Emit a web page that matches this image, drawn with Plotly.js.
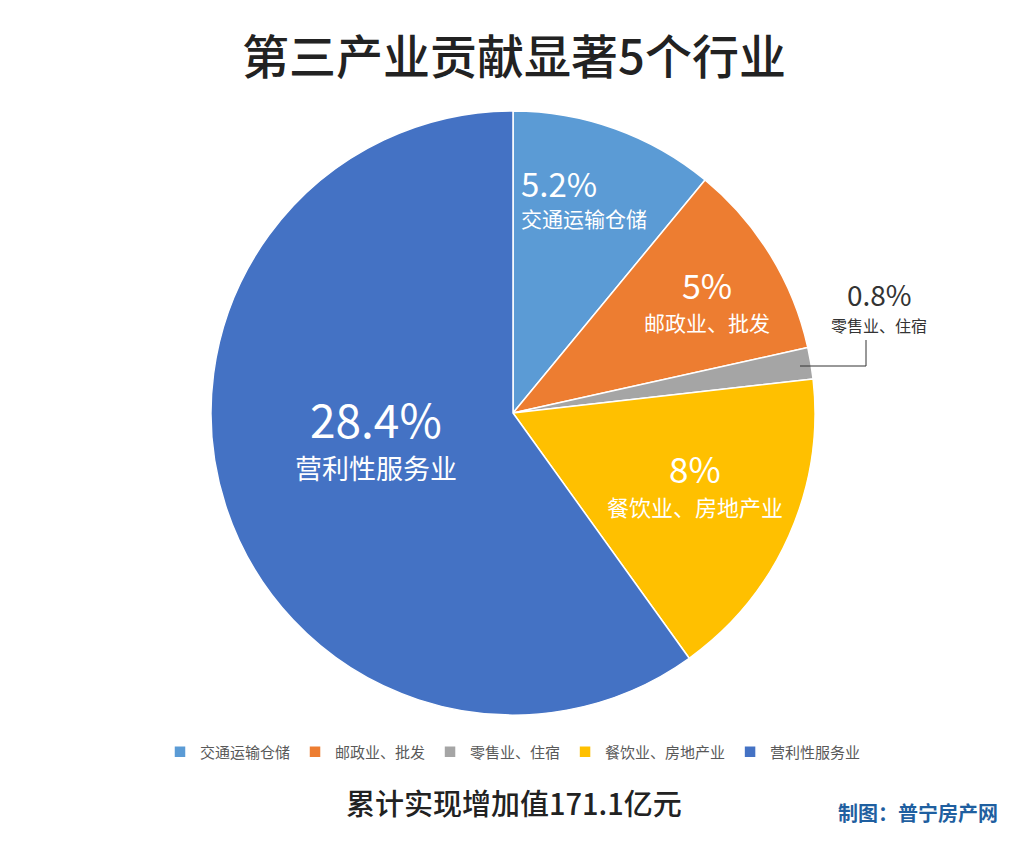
<!DOCTYPE html>
<html><head><meta charset="utf-8">
<script src="https://cdn.plot.ly/plotly-3.0.1.min.js"></script>
<style>html,body{margin:0;padding:0;background:#fff}</style>
</head><body><div id="chart" style="width:1026px;height:849px"></div>
<script>
const categories = ["交通运输仓储", "邮政业、批发", "零售业、住宿", "餐饮业、房地产业", "营利性服务业"];
const values = [5.2, 5, 0.8, 8, 28.4];
const valueLabels = ["5.2%", "5%", "0.8%", "8%", "28.4%"];
const colors = ["#5B9BD5", "#ED7D31", "#A5A5A5", "#FFC000", "#4472C4"];

const W = 1026, H = 849;
const px = x => x / W, py = y => 1 - y / H;
const FONT = "Noto Sans CJK SC, Noto Sans, sans-serif";

// label placement (pixels) : [x, yValue, yName, valueSize, nameSize, color, anchor]
const labelPos = [
  [519, 183, 218, 33, 21, "#ffffff", "left"],
  [707, 285, 322, 34, 21, "#ffffff", "center"],
  [879, 294, 325, 28, 16, "#333333", "center"],
  [695, 467, 506, 35, 22, "#ffffff", "center"],
  [376, 418, 467, 46, 27, "#ffffff", "center"]
];

const annotations = [];
labelPos.forEach((p, i) => {
  annotations.push({xref:"paper", yref:"paper", x:px(p[0]), y:py(p[1]), text:valueLabels[i], showarrow:false,
    xanchor:p[6], yanchor:"middle", font:{family:FONT, size:p[3], color:p[5]}});
  annotations.push({xref:"paper", yref:"paper", x:px(p[0]), y:py(p[2]), text:categories[i], showarrow:false,
    xanchor:p[6], yanchor:"middle", font:{family:FONT, size:p[4], color:p[5]}});
});
annotations.push({xref:"paper", yref:"paper", x:px(514), y:py(802), text:"累计实现增加值171.1亿元", showarrow:false,
  xanchor:"center", yanchor:"middle", font:{family:FONT, size:29, color:"#222222", weight:500}});
annotations.push({xref:"paper", yref:"paper", x:px(918), y:py(812), text:"制图：普宁房产网", showarrow:false,
  xanchor:"center", yanchor:"middle", font:{family:FONT, size:20, color:"#1F5FA0", weight:700}});

const data = [{
  type: "pie",
  labels: categories,
  values: values,
  sort: false,
  direction: "clockwise",
  rotation: 0,
  textinfo: "none",
  hoverinfo: "label+value",
  marker: {colors: colors, line: {color: "#ffffff", width: 1.5}},
  domain: {x: [px(211), px(815)], y: [py(715), py(111)]}
}];

const layout = {
  width: W, height: H,
  margin: {l:0, r:0, t:0, b:0},
  paper_bgcolor: "#ffffff",
  font: {family: FONT},
  title: {text: "第三产业贡献显著5个行业", x: px(514), xanchor: "center", y: py(58), yanchor: "middle",
    font: {family: FONT, size: 47, color: "#222222", weight: 500}},
  showlegend: true,
  legend: {orientation: "h", x: px(513), xanchor: "center", y: py(752), yanchor: "middle",
    font: {family: FONT, size: 15, color: "#595959"}, itemwidth: 30, traceorder: "normal"},
  annotations: annotations,
  shapes: [{type: "path", xref: "paper", yref: "paper",
    path: `M ${px(866)} ${py(340)} L ${px(866)} ${py(366)} L ${px(800)} ${py(366)}`,
    line: {color: "#333333", width: 1}}]
};

Plotly.newPlot("chart", data, layout, {displayModeBar: false});
</script></body></html>
